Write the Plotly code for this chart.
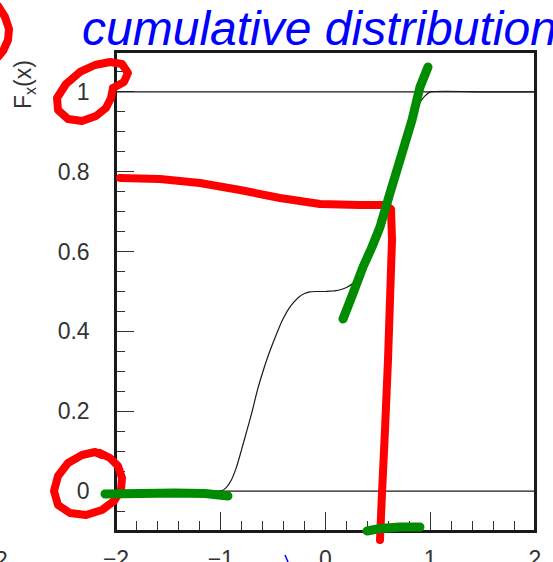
import plotly.graph_objects as go

# ---------------- data ----------------
x_vals = [-2.0, -1.5, -1.0, -0.95, -0.9, -0.85, -0.8, -0.75, -0.7, -0.65, -0.6, -0.55,
          -0.5, -0.45, -0.4, -0.35, -0.3, -0.25, -0.2, -0.15, -0.1, -0.05, 0.0,
          0.05, 0.1, 0.15, 0.2, 0.25, 0.3, 0.35, 0.4, 0.45, 0.5, 0.55, 0.6, 0.65,
          0.7, 0.75, 0.8, 0.85, 0.9, 0.95, 1.0, 1.5, 2.0]
cdf_vals = [0.0, 0.0, 0.0, 0.008, 0.027, 0.06, 0.105, 0.152, 0.20, 0.253, 0.297, 0.337,
            0.372, 0.405, 0.434, 0.457, 0.474, 0.487, 0.495, 0.499, 0.500, 0.500, 0.500,
            0.501, 0.502, 0.505, 0.510, 0.518, 0.532, 0.550, 0.572, 0.598, 0.630, 0.665,
            0.705, 0.748, 0.80, 0.848, 0.895, 0.94, 0.973, 0.99, 1.0, 1.0, 1.0]
reference_levels = [0.0, 1.0]

x_range = [-2, 2]
y_range = [-0.1, 1.1]
x_tick_step = 1
y_tick_step = 0.2

title_text = "cumulative distribution"
y_title = "F<sub>x</sub>(x)"

# ---------------- layout geometry ----------------
FIG_W, FIG_H = 553, 562
ML, MR, MT, MB = 116, 18, 52, 31
PW = FIG_W - ML - MR
PH = FIG_H - MT - MB


def px(x):
    return (x - ML) / PW


def py(y):
    return (FIG_H - MB - y) / PH


# hand-drawn marker strokes (pixel positions in the picture)
strokes = [
    dict(color="#ff0000", width=8, pts=[(113, 88), (124, 82), (128, 73), (122, 64), (110, 62), (95, 65),
                                        (80, 72), (66, 84), (57, 98), (58, 110), (68, 119), (82, 121),
                                        (96, 116), (106, 108), (111, 98), (113, 88)]),
    dict(color="#ff0000", width=8, pts=[(-2, 6), (5, 17), (9, 29), (8, 40), (3, 51), (-2, 57)]),
    dict(color="#ff0000", width=8, pts=[(102, 455), (95, 452), (82, 455), (68, 463), (58, 476), (54, 491),
                                        (58, 505), (70, 513), (86, 515), (102, 510), (114, 501), (121, 490),
                                        (122, 478), (118, 466), (110, 458), (100, 453)]),
    dict(color="#ff0000", width=8, pts=[(120, 178), (160, 179), (200, 183), (240, 190), (280, 198),
                                        (320, 204), (360, 205), (386, 205), (391, 209), (392, 240),
                                        (390, 300), (388, 360), (385, 430), (382, 493), (380, 540)]),
    dict(color="#008c00", width=9, pts=[(105, 494), (140, 493.5), (175, 493), (205, 493.5), (228, 496)]),
    dict(color="#008c00", width=9, pts=[(343, 319), (352, 296), (363, 267), (372, 247), (380, 227),
                                        (390, 193), (400, 160), (412, 120), (420, 87), (428, 67)]),
    dict(color="#008c00", width=9, pts=[(367, 531), (380, 528.5), (400, 527), (420, 527)]),
    dict(color="#0000ff", width=1.5, pts=[(285, 555), (288, 562)]),
]

fig = go.Figure()
fig.add_trace(go.Scatter(x=x_vals, y=cdf_vals, mode="lines",
                         line=dict(color="#1a1a1a", width=1.2, shape="spline", smoothing=0.6),
                         hoverinfo="skip", showlegend=False))

frame_col = "#1a1a1a"
shapes = []
# horizontal reference lines across the full width
for lvl in reference_levels:
    shapes.append(dict(type="line", xref="paper", yref="y", x0=0, x1=1, y0=lvl, y1=lvl,
                       layer="above", line=dict(color="#1a1a1a", width=1.3)))
# frame edges
for (x0, y0, x1, y1) in [(0, 1, 1, 1), (1, 0, 1, 1), (0, 0, 0, 1), (0, 0, 1, 0)]:
    shapes.append(dict(type="line", xref="paper", yref="paper", x0=x0, y0=y0, x1=x1, y1=y1,
                       layer="above", line=dict(color=frame_col, width=2)))
for s in strokes:
    path = "M " + " L ".join(f"{px(a):.5f},{py(b):.5f}" for a, b in s["pts"])
    shapes.append(dict(type="path", path=path, xref="paper", yref="paper", layer="above",
                       line=dict(color=s["color"], width=s["width"])))

tick_font = dict(family="Liberation Sans, Arial, sans-serif", size=23, color="#333333")

fig.update_layout(
    width=FIG_W, height=FIG_H,
    margin=dict(l=ML, r=MR, t=MT, b=MB, pad=0, autoexpand=False),
    paper_bgcolor="white", plot_bgcolor="white",
    showlegend=False,
    shapes=shapes,
    xaxis=dict(range=x_range, dtick=x_tick_step, tick0=0, ticks="inside", ticklen=19,
               tickwidth=1.2, tickcolor="#333333", showline=True, linecolor=frame_col,
               linewidth=1.5, mirror=True, showgrid=False, zeroline=False, automargin=False,
               tickfont=tick_font, ticklabelstandoff=7,
               minor=dict(dtick=0.2, ticks="inside", ticklen=10, tickwidth=1.2,
                          tickcolor="#333333", showgrid=False)),
    yaxis=dict(range=y_range, dtick=y_tick_step, tick0=0, ticks="inside", ticklen=18,
               tickwidth=1.2, tickcolor="#333333", showline=True, linecolor=frame_col,
               linewidth=1.5, mirror=True, showgrid=False, zeroline=False, automargin=False,
               tickfont=tick_font, ticklabelstandoff=20,
               minor=dict(dtick=0.05, ticks="inside", ticklen=9, tickwidth=1.2,
                          tickcolor="#333333", showgrid=False)),
    annotations=[
        dict(text="<i>" + title_text + "</i>", xref="paper", yref="paper",
             x=px(80), y=py(29), xanchor="left", yanchor="middle", showarrow=False,
             font=dict(family="Liberation Sans, Arial, sans-serif", size=48, color="#0000ff")),
        dict(text=y_title, xref="paper", yref="paper", x=px(24), y=py(85),
             xanchor="center", yanchor="middle", textangle=-90, showarrow=False,
             font=dict(family="Liberation Sans, Arial, sans-serif", size=23, color="#333333")),
        dict(text="2", xref="paper", yref="paper", x=px(1), y=py(560),
             xanchor="center", yanchor="middle", showarrow=False,
             font=dict(family="Liberation Sans, Arial, sans-serif", size=23, color="#333333")),
    ],
)

post = """
document.body.style.margin='0';
function rc(){document.querySelectorAll('.shapelayer path').forEach(function(p){
 var w = parseFloat(p.style.strokeWidth || p.getAttribute('stroke-width') || '0');
 if (w > 5) { p.style.strokeLinecap='round'; p.style.strokeLinejoin='round'; }});}
rc(); setTimeout(rc, 50);
"""
fig.write_html("out.html", post_script=post, config={"displayModeBar": False})
